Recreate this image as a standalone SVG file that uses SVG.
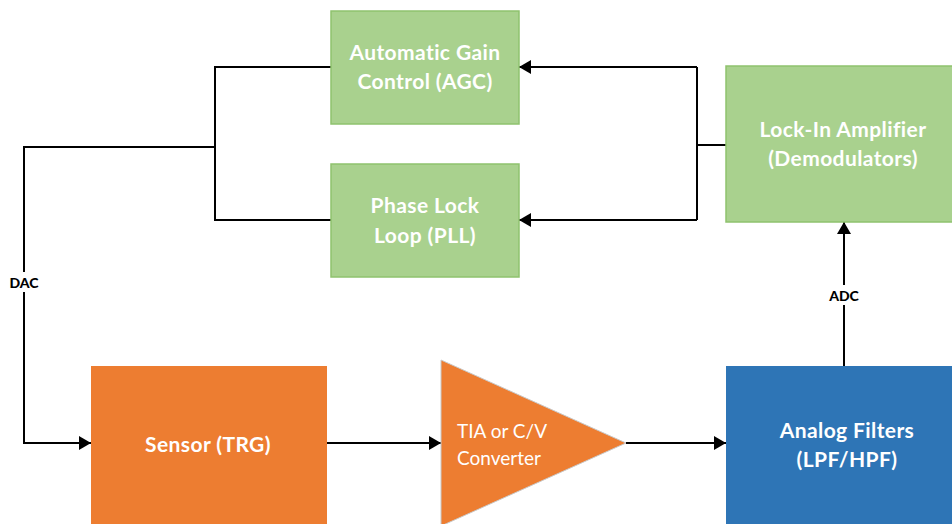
<svg xmlns="http://www.w3.org/2000/svg" width="952" height="524" viewBox="0 0 952 524">
  <defs>
    <marker id="arrow" viewBox="0 0 12 14" refX="12" refY="7" markerWidth="12" markerHeight="14" orient="auto" markerUnits="userSpaceOnUse">
      <path d="M0,0 L12,7 L0,14 Z" fill="#000"/>
    </marker>
    <style>
      .green { fill: #A9D18E; stroke: #8FC26E; stroke-width: 1.5; }
      .orange { fill: #ED7D31; }
      .blue { fill: #2E75B6; }
      .lbl { font-family: Lato, "Liberation Sans", sans-serif; font-weight: bold; font-size: 21px; letter-spacing: 0.4px; fill: #fff; text-anchor: middle; }
      .plain { font-family: Lato, "Liberation Sans", sans-serif; font-size: 19px; fill: #fff; }
      .wire { fill: none; stroke: #000; stroke-width: 2; }
      .tag { font-family: Lato, "Liberation Sans", sans-serif; font-weight: 900; font-size: 14px; fill: #000; text-anchor: middle; }
    </style>
  </defs>
  <rect width="952" height="524" fill="#fff"/>

  <g id="connectors">
    <!-- AGC / PLL outputs merge into the DAC path -->
    <polyline class="wire" points="331,67 215,67 215,220 331,220"/>
    <polyline class="wire" points="215,147 24,147 24,443 91,443" marker-end="url(#arrow)"/>
    <!-- Lock-in amplifier feeds both loops -->
    <line class="wire" x1="726" y1="145" x2="697" y2="145"/>
    <line class="wire" x1="697" y1="67" x2="697" y2="220"/>
    <line class="wire" x1="697" y1="67" x2="519" y2="67" marker-end="url(#arrow)"/>
    <line class="wire" x1="697" y1="220" x2="519" y2="220" marker-end="url(#arrow)"/>
    <!-- signal chain -->
    <line class="wire" x1="327" y1="443" x2="441" y2="443" marker-end="url(#arrow)"/>
    <line class="wire" x1="626" y1="443" x2="726" y2="443" marker-end="url(#arrow)"/>
    <line class="wire" x1="844" y1="366" x2="844" y2="222" marker-end="url(#arrow)"/>
    <!-- converter tags -->
    <rect x="6" y="272" width="36" height="20" fill="#fff"/>
    <text class="tag" x="24" y="288">DAC</text>
    <rect x="826" y="285" width="36" height="20" fill="#fff"/>
    <text class="tag" x="844" y="301">ADC</text>
  </g>

  <g id="agc">
    <rect class="green" x="331" y="11" width="188" height="113"/>
    <text class="lbl" x="425" y="60">Automatic Gain</text>
    <text class="lbl" x="425" y="89">Control (AGC)</text>
  </g>

  <g id="pll">
    <rect class="green" x="331" y="164" width="188" height="113"/>
    <text class="lbl" x="425" y="213">Phase Lock</text>
    <text class="lbl" x="425" y="243">Loop (PLL)</text>
  </g>

  <g id="lockin">
    <rect class="green" x="726" y="66" width="230" height="156"/>
    <text class="lbl" x="843" y="137">Lock-In Amplifier</text>
    <text class="lbl" x="843" y="166">(Demodulators)</text>
  </g>

  <g id="sensor">
    <rect class="orange" x="91" y="366" width="236" height="164"/>
    <text class="lbl" x="208" y="452">Sensor (TRG)</text>
  </g>

  <g id="tia">
    <polygon class="orange" points="441,360 626,443 441,526" stroke="#C9C9C9" stroke-width="1"/>
    <text class="plain" x="457" y="438">TIA or C/V</text>
    <text class="plain" x="457" y="465">Converter</text>
  </g>

  <g id="filters">
    <rect class="blue" x="726" y="366" width="230" height="164"/>
    <text class="lbl" x="847" y="438">Analog Filters</text>
    <text class="lbl" x="847" y="467">(LPF/HPF)</text>
  </g>
</svg>
